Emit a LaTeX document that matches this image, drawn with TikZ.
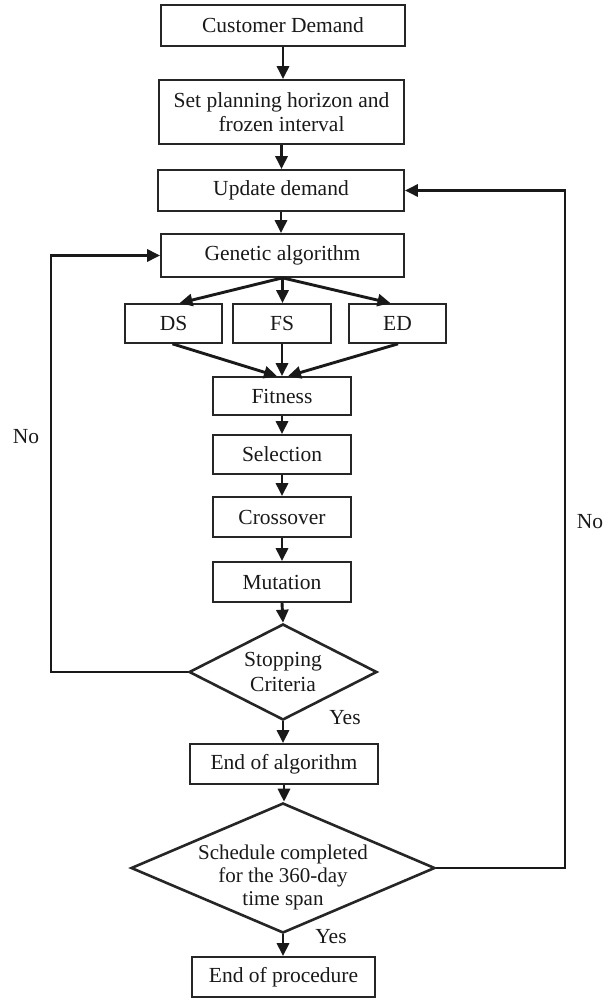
\documentclass[tikz,border=0pt]{standalone}
\usepackage{fontspec}
\setmainfont{Liberation Serif}
\usetikzlibrary{shapes.geometric,arrows.meta,calc}
\begin{document}
\begin{tikzpicture}[x=1pt,y=-1pt,
  every node/.style={font=\fontsize{21.5}{24.5}\selectfont, text=black!90},
  box/.style={draw=black!85, line width=1.7pt, rectangle, inner sep=0pt, align=center},
  dia/.style={draw=black!85, line width=2.6pt, diamond, inner sep=0pt},
  arr/.style={line width=2.9pt, draw=black!90, -{Triangle[width=12pt,length=13pt]}},
  lbl/.style={inner sep=0pt}]
\useasboundingbox (0,0) rectangle (611,1000);
\node[box, minimum width=244, minimum height=41] (cd) at (283,25.5) {Customer Demand};
\node[box, minimum width=245, minimum height=64] (plan) at (281.5,112) {Set planning horizon and\\frozen interval};
\node[box, minimum width=246, minimum height=41] (upd) at (281,190.5) {Update demand};
\node[box, minimum width=243, minimum height=43] (ga) at (282.5,255.5) {Genetic algorithm};
\node[box, minimum width=97, minimum height=39] (ds) at (173.5,323.5) {DS};
\node[box, minimum width=98, minimum height=39] (fs) at (282,323.5) {FS};
\node[box, minimum width=97, minimum height=39] (ed) at (397.5,323.5) {ED};
\node[box, minimum width=138, minimum height=38] (fit) at (282,396) {Fitness};
\node[box, minimum width=138, minimum height=39] (sel) at (282,454.5) {Selection};
\node[box, minimum width=138, minimum height=40] (cro) at (282,517) {Crossover};
\node[box, minimum width=138, minimum height=40] (mut) at (282,582) {Mutation};
\node[dia, minimum width=188, minimum height=96, label={[align=center,inner sep=0pt,font=\fontsize{21.5}{24.5}\selectfont]center:Stopping\\Criteria}] (stop) at (283,672) {};
\node[box, minimum width=188, minimum height=40] (eoa) at (284,764) {End of algorithm};
\node[dia, minimum width=304, minimum height=130, label={[align=center,inner sep=0pt,yshift=-9pt,font=\fontsize{21}{23}\selectfont]center:Schedule completed\\for the 360-day\\time span}] (sched) at (283,868) {};
\node[box, minimum width=183, minimum height=40] (eop) at (283.5,977) {End of procedure};
\node[lbl] (no1) at (26,437) {No};
\node[lbl] (no2) at (590,522) {No};
\node[lbl] (yes1) at (345,718) {Yes};
\node[lbl] (yes2) at (331,937) {Yes};
\coordinate (lc) at (51,672);
\coordinate (rc) at (565,868);
\draw[arr] (cd.south) -- (cd.south |- plan.north);
\draw[arr] (plan.south) -- (plan.south |- upd.north);
\draw[arr] (upd.south) -- (upd.south |- ga.north);
\draw[arr] (ga.south) -- ([xshift=6pt]ds.north);
\draw[arr] (ga.south) -- (ga.south |- fs.north);
\draw[arr] (ga.south) -- ([xshift=-7pt]ed.north);
\draw[arr] ([xshift=-1pt]ds.south) -- ([xshift=-5pt]fit.north);
\draw[arr] (fs.south) -- (fit.north);
\draw[arr] ([xshift=0.5pt]ed.south) -- ([xshift=6pt]fit.north);
\draw[arr] (fit.south) -- (sel.north);
\draw[arr] (sel.south) -- (cro.north);
\draw[arr] (cro.south) -- (mut.north);
\draw[arr] (mut.south) -- (stop.north);
\draw[arr] (stop.south) -- (stop.south |- eoa.north);
\draw[arr] (eoa.south) -- (eoa.south |- sched.north);
\draw[arr] (sched.south) -- (sched.south |- eop.north);
\draw[arr] (stop.west) -- (lc) |- (ga.west);
\draw[arr] (sched.east) -- (rc) |- (upd.east);
\end{tikzpicture}
\end{document}
